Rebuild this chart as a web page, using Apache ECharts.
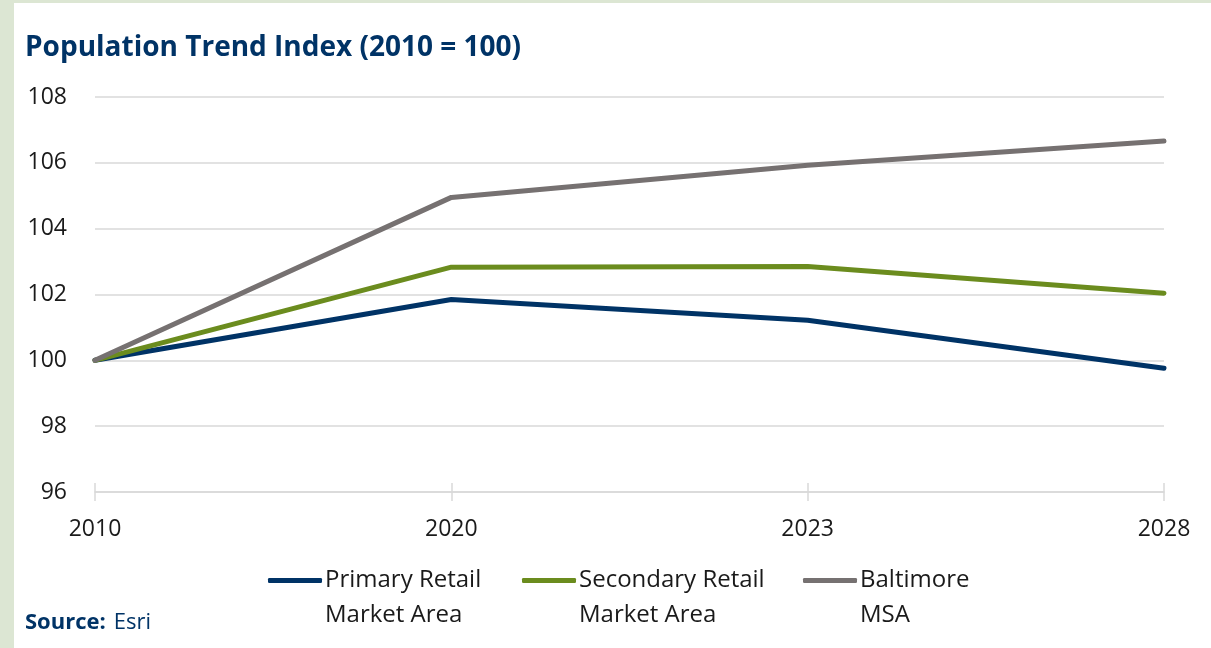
<!DOCTYPE html>
<html>
<head>
<meta charset="utf-8">
<script src="https://cdn.jsdelivr.net/npm/echarts@6/dist/echarts.min.js"></script>
<style>
  html, body { margin: 0; padding: 0; width: 1211px; height: 648px; background: #dce6d3; overflow: hidden; }
  #chart { position: absolute; left: 14px; top: 3px; width: 1197px; height: 645px; background: #ffffff; }
</style>
</head>
<body>
<div id="chart"></div>
<script>
// Population index values, 2010 = 100
const years = ['2010', '2020', '2023', '2028'];
const primaryRMA = [100, 101.85, 101.22, 99.76];
const secondaryRMA = [100, 102.83, 102.85, 102.04];
const baltimoreMSA = [100, 104.95, 105.93, 106.66];
const seriesNames = ['Primary Retail\nMarket Area', 'Secondary Retail\nMarket Area', 'Baltimore\nMSA'];
const seriesColors = ['#003366', '#6b8c1e', '#767171'];

const FONT = '"Open Sans", "Noto Sans", sans-serif';
const chart = echarts.init(document.getElementById('chart'), null, { renderer: 'canvas' });

// one legend block per series so each sits at its own x position;
// a leading blank line puts the first text line level with the swatch
const legendLefts = [254, 508, 789];
const legends = seriesNames.map((name, i) => ({
  data: [name],
  left: legendLefts[i],
  top: 525,
  padding: 0,
  itemWidth: 54,
  itemHeight: 5,
  itemGap: 0,
  icon: 'roundRect',
  selectedMode: false,
  formatter: n => '\n' + n,
  textStyle: {
    fontFamily: FONT,
    fontSize: 24,
    color: '#1a1a1a',
    lineHeight: 35,
    padding: [0, 0, 0, -2]
  }
}));

const datasets = [primaryRMA, secondaryRMA, baltimoreMSA];

chart.setOption({
  animation: false,
  title: {
    text: 'Population Trend Index (2010 = 100)',
    left: 6,
    top: 26,
    textStyle: { fontFamily: FONT, fontSize: 28, fontWeight: 'bold', color: '#003366' }
  },
  legend: legends,
  grid: { left: 81, right: 47, top: 94, bottom: 156 },
  xAxis: [{
    type: 'category',
    data: years,
    boundaryGap: false,
    axisLine: { lineStyle: { color: '#d9d9d9', width: 1.5 } },
    axisTick: { show: true, length: 9, lineStyle: { color: '#d9d9d9', width: 1.5 } },
    axisLabel: { fontFamily: FONT, fontSize: 23, color: '#1a1a1a', margin: 26 }
  }, {
    type: 'category',
    data: years,
    boundaryGap: false,
    position: 'bottom',
    axisLine: { show: false },
    axisTick: { show: true, inside: true, length: 9, lineStyle: { color: '#d9d9d9', width: 1.5 } },
    axisLabel: { show: false }
  }],
  yAxis: {
    type: 'value',
    min: 96,
    max: 108,
    interval: 2,
    axisLine: { show: false },
    axisTick: { show: false },
    splitLine: { lineStyle: { color: '#d9d9d9', width: 1.5 } },
    axisLabel: { fontFamily: FONT, fontSize: 23, color: '#1a1a1a', margin: 28 }
  },
  series: datasets.map((d, i) => ({
    name: seriesNames[i],
    type: 'line',
    data: d,
    symbol: 'none',
    color: seriesColors[i],
    lineStyle: { width: 5, color: seriesColors[i], cap: 'round' },
    z: 3 + i
  })),
  graphic: [{
    type: 'text',
    left: 11,
    top: 609,
    style: {
      text: '{b|Source:}{r|Esri}',
      rich: {
        b: { fontFamily: FONT, fontSize: 22, fontWeight: 'bold', fill: '#003366' },
        r: { fontFamily: FONT, fontSize: 22, fill: '#003366', padding: [0, 0, 0, 8] }
      }
    }
  }]
});
</script>
</body>
</html>
